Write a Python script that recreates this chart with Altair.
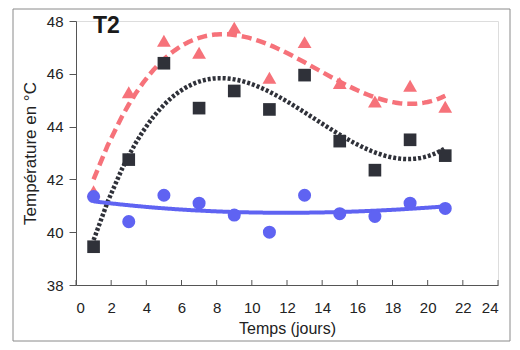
import altair as alt
import pandas as pd

days = [1, 3, 5, 7, 9, 11, 13, 15, 17, 19, 21]
temp_tri = [41.55, 45.3, 47.25, 46.8, 47.75, 45.85, 47.2, 45.65, 44.95, 45.55, 44.75]
temp_sq = [39.45, 42.75, 46.4, 44.7, 45.35, 44.65, 45.95, 43.45, 42.35, 43.5, 42.9]
temp_ci = [41.35, 40.4, 41.4, 41.1, 40.65, 40.0, 41.4, 40.7, 40.6, 41.1, 40.9]
x_ticks = list(range(0, 25, 2))
y_ticks = [38, 40, 42, 44, 46, 48]

RED = "#F6727A"
DARK = "#2F3139"
BLUE = "#5F63F2"
FONT = "Liberation Sans"

df_tri = pd.DataFrame({"t": days, "v": temp_tri})
df_sq = pd.DataFrame({"t": days, "v": temp_sq})
df_ci = pd.DataFrame({"t": days, "v": temp_ci})
df_ticks = pd.DataFrame({"t": x_ticks})

xs = alt.Scale(domain=[0, 24], nice=False, zero=False)
ys = alt.Scale(domain=[38, 48], nice=False, zero=False)

x_enc = alt.X("t:Q", scale=xs, title="Temps (jours)",
              axis=alt.Axis(values=x_ticks, labelOverlap=False, ticks=False, tickSize=0,
                            labelPadding=15, titlePadding=5, grid=False, domainColor="#555",
                            labelFontSize=15, titleFontSize=16, labelColor="#222",
                            titleColor="#222", titleFontWeight="normal", labelFont=FONT,
                            titleFont=FONT))
y_enc = alt.Y("v:Q", scale=ys, title="Température en °C",
              axis=alt.Axis(values=y_ticks, labelOverlap=False, tickSize=7, labelPadding=6,
                            titlePadding=7, grid=False, domainColor="#555", tickColor="#555",
                            labelFontSize=15, titleFontSize=17, labelColor="#222",
                            titleColor="#222", titleFontWeight="normal", labelFont=FONT,
                            titleFont=FONT))


def trend(df, color, dash, width):
    return alt.Chart(df).transform_regression(
        "t", "v", method="poly", order=3, extent=[1, 21]
    ).mark_line(color=color, strokeDash=dash, strokeWidth=width).encode(x=x_enc, y=y_enc)


line_red = trend(df_tri, RED, [10, 5], 4.5)
line_dark = trend(df_sq, DARK, [3, 2], 4.5)
line_blue = trend(df_ci, BLUE, [1, 0], 4)

pts_tri = alt.Chart(df_tri).mark_point(shape="triangle-up", filled=True, opacity=1,
                                       color=RED, size=190).encode(x=x_enc, y=y_enc)
pts_sq = alt.Chart(df_sq).mark_point(shape="square", filled=True, opacity=1,
                                     color=DARK, size=160).encode(x=x_enc, y=y_enc)
pts_ci = alt.Chart(df_ci).mark_point(shape="circle", filled=True, opacity=1,
                                     color=BLUE, size=170).encode(x=x_enc, y=y_enc)

ticks = alt.Chart(df_ticks).mark_rule(color="#555", strokeWidth=1).encode(
    x=x_enc, y=alt.value(264), y2=alt.value(259))

label = alt.Chart(pd.DataFrame({"txt": ["T2"]})).mark_text(
    align="left", baseline="middle", font=FONT, fontSize=23, fontWeight="bold", color="#1a1a1a"
).encode(x=alt.value(17), y=alt.value(5), text="txt:N")

frame = alt.Chart(pd.DataFrame({"a": [0]})).mark_rect(
    filled=False, stroke="#8a8a8a", strokeWidth=1
).encode(x=alt.value(-63), x2=alt.value(434), y=alt.value(-12), y2=alt.value(320))

chart = alt.layer(
    line_red, line_dark, line_blue, pts_tri, pts_sq, pts_ci, ticks, label, frame
).properties(
    width=422, height=264,
    padding={"left": 68, "top": 13, "right": 14, "bottom": 57},
    autosize=alt.AutoSizeParams(type="none"),
).configure_view(stroke=None).configure(background="white")

chart.save("out.html", embed_options={"renderer": "svg", "actions": False})
